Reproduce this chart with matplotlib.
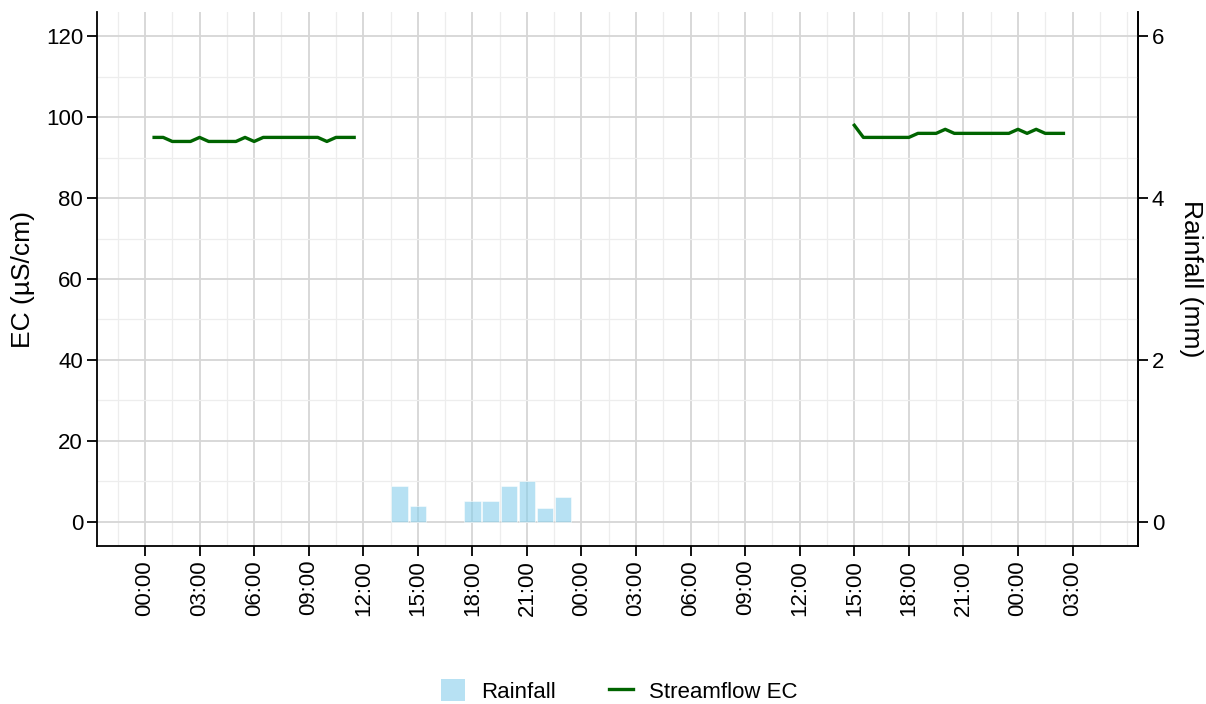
import matplotlib
matplotlib.use("Agg")
import matplotlib.pyplot as plt
from matplotlib.patches import Patch
from matplotlib.lines import Line2D
from matplotlib.ticker import MultipleLocator, FixedLocator

plt.rcParams['font.family'] = ['Liberation Sans', 'DejaVu Sans']

# hours since 00:00 of day 1
ec_hours_1 = [0.5, 1.0, 1.5, 2.0, 2.5, 3.0, 3.5, 4.0, 4.5, 5.0, 5.5, 6.0,
              6.5, 7.0, 7.5, 8.0, 8.5, 9.0, 9.5, 10.0, 10.5, 11.0, 11.5]
ec_values_1 = [95, 95, 94, 94, 94, 95, 94, 94, 94, 94, 95, 94,
               95, 95, 95, 95, 95, 95, 95, 94, 95, 95, 95]

ec_hours_2 = [39.0, 39.5, 40.0, 40.5, 41.0, 41.5, 42.0, 42.5, 43.0, 43.5, 44.0, 44.5,
              45.0, 45.5, 46.0, 46.5, 47.0, 47.5, 48.0, 48.5, 49.0, 49.5, 50.0, 50.5]
ec_values_2 = [98, 95, 95, 95, 95, 95, 95, 96, 96, 96, 97, 96,
               96, 96, 96, 96, 96, 96, 97, 96, 97, 96, 96, 96]

rain_hours = [14, 15, 18, 19, 20, 21, 22, 23]
rain_mm = [0.44, 0.20, 0.26, 0.26, 0.44, 0.50, 0.17, 0.31]

tick_hours = [0, 3, 6, 9, 12, 15, 18, 21, 24, 27, 30, 33, 36, 39, 42, 45, 48, 51]
tick_labels = ["00:00", "03:00", "06:00", "09:00", "12:00", "15:00", "18:00", "21:00",
               "00:00", "03:00", "06:00", "09:00", "12:00", "15:00", "18:00", "21:00",
               "00:00", "03:00"]

SCALE = 20.0  # EC units per mm of rain (secondary axis)

fig = plt.figure(figsize=(12.06, 7.04), dpi=100)
ax = fig.add_axes([97/1206, 1 - 546/704, (1138-97)/1206, (546-12)/704])

rain_color = '#87CEEB'
line_color = '#006400'

ax.bar(rain_hours, [r * SCALE for r in rain_mm], width=0.9, color=rain_color,
       alpha=0.6, edgecolor='white', linewidth=0.6, zorder=2)
ax.plot(ec_hours_1, ec_values_1, color=line_color, lw=2.4, zorder=3)
ax.plot(ec_hours_2, ec_values_2, color=line_color, lw=2.4, zorder=3)

ax.set_xlim(-2.64, 54.6)
ax.set_ylim(-6, 126)

ax.xaxis.set_major_locator(FixedLocator(tick_hours))
ax.set_xticklabels(tick_labels, rotation=90)
ax.xaxis.set_minor_locator(MultipleLocator(1.5))
ax.yaxis.set_major_locator(FixedLocator([0, 20, 40, 60, 80, 100, 120]))
ax.yaxis.set_minor_locator(MultipleLocator(10))

ax.grid(which='major', color='#d6d6d6', lw=1.3, zorder=0)
ax.grid(which='minor', color='#ededed', lw=0.9, zorder=0)
ax.set_axisbelow(True)

for s in ['left', 'bottom', 'right']:
    ax.spines[s].set_color('black')
    ax.spines[s].set_linewidth(1.3)
ax.spines['top'].set_visible(False)

ax.tick_params(axis='both', which='major', length=7, width=1.3, labelsize=16,
               color='black', labelcolor='black', pad=3)
ax.tick_params(axis='both', which='minor', length=0)

ax.set_ylabel('EC (µS/cm)', fontsize=19, labelpad=8)

sec = ax.secondary_yaxis('right', functions=(lambda y: y / SCALE, lambda y: y * SCALE))
sec.yaxis.set_major_locator(FixedLocator([0, 2, 4, 6]))
sec.tick_params(axis='y', which='major', length=7, width=1.3, labelsize=16, pad=3)
sec.tick_params(axis='y', which='minor', length=0)
sec.spines['right'].set_linewidth(1.3)
sec.set_ylabel('Rainfall (mm)', fontsize=19, rotation=-90, labelpad=28)

handles = [Patch(facecolor=rain_color, alpha=0.6, edgecolor='none', label='Rainfall'),
           Line2D([0], [0], color=line_color, lw=2.4, label='Streamflow EC')]
fig.legend(handles=handles, loc='center', bbox_to_anchor=(619/1206, 1 - 691/704),
           ncol=2, frameon=False, fontsize=16, handlelength=1.1, handleheight=1.1,
           columnspacing=2.4, handletextpad=0.7)

fig.savefig('out.png', dpi=100)
